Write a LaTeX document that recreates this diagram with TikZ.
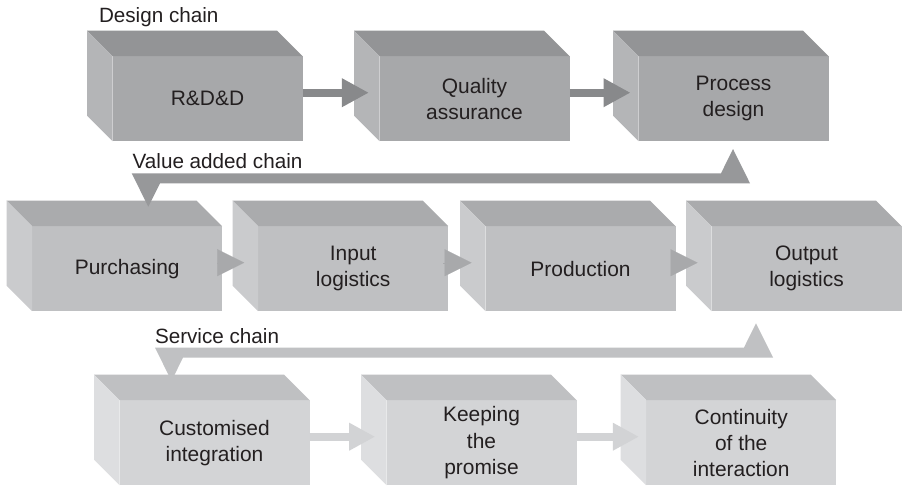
\documentclass[tikz,border=0pt]{standalone}
\usepackage{fontspec}
\setmainfont{Liberation Sans}
\usetikzlibrary{arrows.meta,calc}

\definecolor{inkc}{HTML}{231F20}
% design chain tones
\definecolor{dFront}{HTML}{A7A8AA}
\definecolor{dTop}{HTML}{939496}
\definecolor{dSide}{HTML}{B4B5B7}
\definecolor{dArrow}{HTML}{88898B}
% value added chain tones
\definecolor{vFront}{HTML}{BFC0C2}
\definecolor{vTop}{HTML}{AAABAD}
\definecolor{vSide}{HTML}{CACBCD}
\definecolor{vArrow}{HTML}{A8A9AB}
\definecolor{vReturn}{HTML}{97989A}
% service chain tones
\definecolor{sFront}{HTML}{D3D4D6}
\definecolor{sTop}{HTML}{BFC0C2}
\definecolor{sSide}{HTML}{DDDEE0}
\definecolor{sArrow}{HTML}{D2D3D5}
\definecolor{sReturn}{HTML}{C0C1C3}

\tikzset{
  facebox/.style={draw=none, inner sep=0pt, outer sep=0pt,
    minimum width=142.5pt, minimum height=63.75pt, align=center,
    text=inkc, font=\fontsize{15.7}{19.6}\selectfont},
  chainlabel/.style={inner sep=0pt, outer sep=0pt, anchor=base west,
    text=inkc, font=\fontsize{15.5}{18}\selectfont},
  darrow/.style={draw=dArrow, line width=6.3pt,
    -{Triangle[length=20.25pt,width=20.25pt]}},
  varrow/.style={draw=vArrow, line width=0.1pt,
    -{Triangle[length=20.25pt,width=20.25pt]}},
  sarrow/.style={draw=sArrow, line width=5.7pt,
    -{Triangle[length=19.5pt,width=19.5pt]}},
}

% box with front face node #1 at back-top-left corner (#2,#3), text #4, tone #5
\newcommand\cubebox[5]{%
  \node[facebox, fill=#5Front] (#1) at (#2+25.5+95, #3+25.5+42.5) {#4};
  \fill[#5Top] ([shift={(-25.5,-25.5)}]#1.north west) -- ([shift={(-25.5,-25.5)}]#1.north east)
     -- (#1.north east) -- (#1.north west) -- cycle;
  \fill[#5Side] ([shift={(-25.5,-25.5)}]#1.north west) -- (#1.north west)
     -- (#1.south west) -- ([shift={(-25.5,-25.5)}]#1.south west) -- cycle;
}

\begin{document}
\begin{tikzpicture}[x=0.75pt,y=-0.75pt]
\fill[white] (0,0) rectangle (906,486);
\useasboundingbox (0,0) rectangle (906,486);

% design chain
\node[chainlabel] (dlab) at (99,22.7) {Design chain};
\cubebox{rdd}{87}{30.7}{R\&D\&D}{d}
\cubebox{qa}{354}{30.7}{Quality\\assurance}{d}
\cubebox{pd}{613}{30.7}{Process\\design}{d}
\draw[darrow] ([yshift=4.5pt]rdd.east) -- ([xshift=-8pt,yshift=4.5pt]qa.west);
\draw[darrow] ([yshift=4.5pt]qa.east) -- ([xshift=-6pt,yshift=4.5pt]pd.west);

% value added chain
\node[chainlabel] (vlab) at (132.7,168.3) {Value added chain};
\cubebox{pur}{6.7}{200.7}{Purchasing}{v}
\cubebox{inl}{232.7}{200.7}{Input\\logistics}{v}
\cubebox{prod}{460}{200.7}{Production}{v}
\cubebox{outl}{686}{200.7}{Output\\logistics}{v}
\draw[varrow] ([xshift=-3.75pt,yshift=4.5pt]pur.east) -- ([xshift=-10.5pt,yshift=4.5pt]inl.west);
\draw[varrow] ([xshift=-3.75pt,yshift=4.5pt]inl.east) -- ([xshift=-10.5pt,yshift=4.5pt]prod.west);
\draw[varrow] ([xshift=-3.75pt,yshift=4.5pt]prod.east) -- ([xshift=-10.5pt,yshift=4.5pt]outl.west);

% feedback from process design back to purchasing
\coordinate (vup) at (733,149);
\coordinate (vdown) at (148.3,206.7);
\fill[vReturn] (131.7,173.3) -- (721,173.3) -- (vup) -- (750,183.3)
   -- (160,183.3) -- (vdown) -- cycle;

% service chain
\node[chainlabel] (slab) at (155,343.3) {Service chain};
\coordinate (sup) at (756,323.3);
\coordinate (sdown) at (171.5,381);
\fill[sReturn] (155,347.5) -- (744,347.5) -- (sup) -- (773,357.5)
   -- (183,357.5) -- (sdown) -- cycle;
\cubebox{ci}{94}{374.7}{Customised\\integration}{s}
\cubebox{kp}{361}{374.7}{Keeping\\the\\promise}{s}
\cubebox{ct}{620.7}{374.7}{Continuity\\of the\\interaction}{s}
\draw[sarrow] ([yshift=4.5pt]ci.east) -- ([xshift=-8.5pt,yshift=4.5pt]kp.west);
\draw[sarrow] ([yshift=4.5pt]kp.east) -- ([xshift=-5.5pt,yshift=4.5pt]ct.west);
\end{tikzpicture}
\end{document}
